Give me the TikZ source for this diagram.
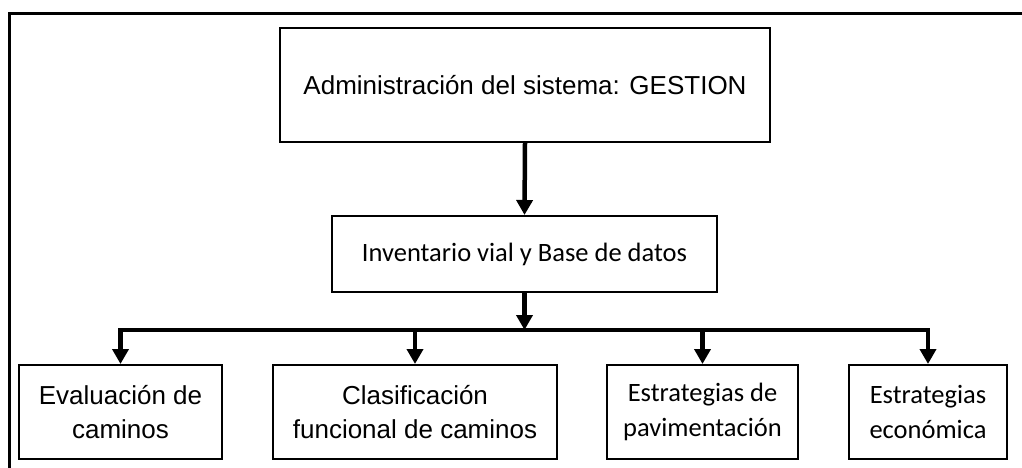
\documentclass[tikz,border=0pt]{standalone}
\usepackage{fontspec}
\newfontfamily\arialf{Liberation Sans}
\newfontfamily\calibrif{Carlito}
\usetikzlibrary{arrows.meta}
\begin{document}
\begin{tikzpicture}[x=1pt,y=-1pt,
  box/.style={draw=black,line width=2pt,inner sep=0pt,align=center,minimum height=96pt},
  arialtext/.style={font=\arialf\fontsize{26}{34.5}\selectfont},
  calibritext/.style={font=\calibrif\fontsize{26.5}{34.5}\selectfont},
  conn/.style={line width=4.5pt},
  arr/.style={conn,-{Triangle[length=15pt,width=16pt]}},
  frameline/.style={line width=3pt}]
\useasboundingbox (0,0) rectangle (1022,468);
\fill[white] (0,0) rectangle (1022,468);
\draw[frameline] (9,470) -- (9,14) -- (1024,14);
\node[box,arialtext,minimum width=490pt,minimum height=114pt] (gest) at (525,85) {Administración del sistema: GESTION};
\node[box,calibritext,minimum width=385pt,minimum height=76pt] (inv) at (524.5,254) {Inventario vial y Base de datos};
\node[box,arialtext,minimum width=203pt,minimum height=94pt] (b1) at (120.5,412) {Evaluación de\\caminos};
\node[box,arialtext,minimum width=284pt,minimum height=94pt] (b2) at (415,412) {Clasificación\\funcional de caminos};
\node[box,calibritext,minimum width=191pt,minimum height=94pt] (b3) at (702.5,412) {Estrategias de\\pavimentación};
\node[box,calibritext,minimum width=158pt,minimum height=94pt] (b4) at (928,412) {Estrategias\\económica};
\coordinate (bus) at (524.5,330);
\draw[arr] (gest.south) -- (inv.north);
\draw[arr] (inv.south) -- (inv.south |- bus);
\draw[conn,line cap=rect] (b1.north |- bus) -- (b4.north |- bus);
\draw[arr] (b1.north |- bus) -- (b1.north);
\draw[arr] (b2.north |- bus) -- (b2.north);
\draw[arr] (b3.north |- bus) -- (b3.north);
\draw[arr] (b4.north |- bus) -- (b4.north);
\end{tikzpicture}
\end{document}
